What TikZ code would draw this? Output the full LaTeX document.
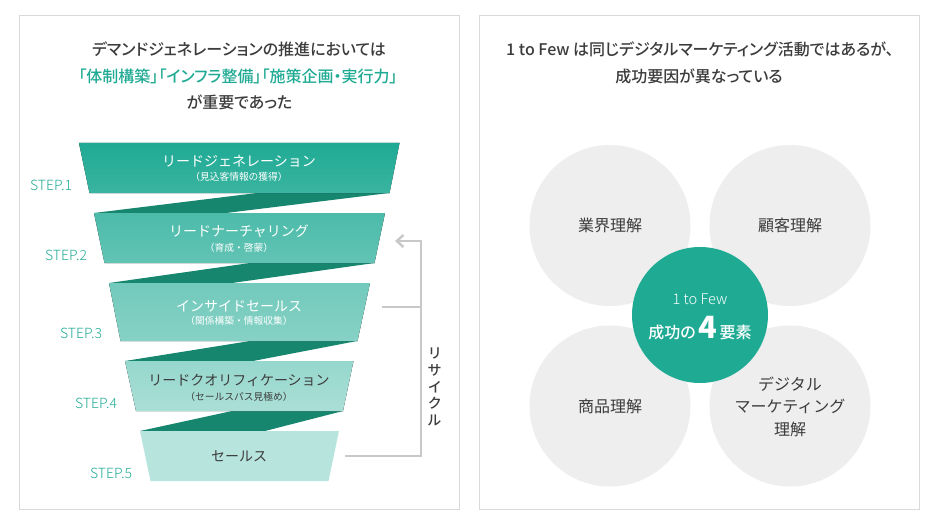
\documentclass[tikz,border=0pt]{standalone}
\usepackage{fontspec}
\usetikzlibrary{arrows.meta}
\setmainfont{Noto Sans CJK JP}[BoldFont={Noto Sans CJK JP Bold}]
\newfontfamily\jpm{Noto Sans CJK JP Medium}[RawFeature=+palt]
\newfontfamily\jpr{Noto Sans CJK JP}
\newfontfamily\jpl{Noto Sans CJK JP Light}
\definecolor{teal1}{HTML}{1FAA94}
\definecolor{tealdark}{HTML}{17866F}
\definecolor{ink}{HTML}{3C3C3C}
\definecolor{panelline}{HTML}{D9D9D9}
\definecolor{greyline}{HTML}{C8C8C8}
\definecolor{disc}{HTML}{EEEEEE}
\tikzset{
  panel/.style={draw=panelline,line width=0.75pt,fill=white},
  headline/.style={font=\jpm\fontsize{12}{12}\selectfont,text=ink,inner sep=0pt},
  headteal/.style={headline,text=teal1},
  funnelmain/.style={font=\jpr\fontsize{10.5}{10.5}\selectfont,text=white,inner sep=0pt},
  funnelsub/.style={font=\jpr\fontsize{7.3}{7.3}\selectfont,text=white,inner sep=0pt},
  steplabel/.style={font=\jpl\fontsize{10.5}{10.5}\selectfont,text=teal1,inner sep=0pt},
  recycleline/.style={draw=greyline,line width=2.2pt},
  discshape/.style={circle,fill=disc,minimum size=120.75pt,inner sep=0pt,
     font=\jpr\fontsize{12}{17}\selectfont,text=ink,align=center},
  twist/.style={fill=tealdark},
}
\begin{document}
\begin{tikzpicture}[x=0.75pt,y=-0.75pt]
\useasboundingbox (0,0) rectangle (940,528);
\fill[white] (0,0) rectangle (940,528);
\draw[panel] (19.5,16) rectangle (459.5,509.5);
\draw[panel] (479.5,16) rectangle (919.5,509.5);
% headlines
\node[headline] (h1) at (239,49) {デマンドジェネレーションの推進においては};
\node[headteal] (h2) at (238,76) {「体制構築」「インフラ整備」「施策企画・実行力」};
\node[headline] (h3) at (239.5,102) {が重要であった};
\node[headline] (r1) at (700,49) {1 to Few は同じデジタルマーケティング活動ではあるが、};
\node[headline] (r2) at (699,76) {成功要因が異なっている};
% twists
\fill[twist] (94,213) -- (257,193) -- (389,193) -- (226,213) -- cycle;
\fill[twist] (109,283) -- (250,263) -- (374.5,263) -- (232,283) -- cycle;
\fill[twist] (125,361) -- (250,341) -- (357,341) -- (253,361) -- cycle;
\fill[twist] (140,431) -- (232,411) -- (343,411) -- (265,431) -- cycle;
% funnel
\fill[top color=teal1,bottom color=teal1!88!white] (79,143) -- (399.5,143) -- (389.5,193) -- (89.5,193) -- cycle;
\fill[top color=teal1!80!white,bottom color=teal1!70!white] (94,213) -- (385,213) -- (374.5,263) -- (104.5,263) -- cycle;
\fill[top color=teal1!63!white,bottom color=teal1!54!white] (109,283) -- (370,283) -- (357.5,341) -- (120.5,341) -- cycle;
\fill[top color=teal1!47!white,bottom color=teal1!38!white] (125,361) -- (353.5,361) -- (343,411) -- (136,411) -- cycle;
\fill[teal1!32!white] (140,431) -- (339,431) -- (328.5,481) -- (150.5,481) -- cycle;
% funnel texts
\node[funnelmain] (f1) at (239,161) {リードジェネレーション};
\node[funnelsub] (f1s) at (239,177) {（見込客情報の獲得）};
\node[funnelmain] (f2) at (239,231) {リードナーチャリング};
\node[funnelsub] (f2s) at (239,247.5) {（育成・啓蒙）};
\node[funnelmain] (f3) at (239,306) {インサイドセールス};
\node[funnelsub] (f3s) at (239,321) {（関係構築・情報収集）};
\node[funnelmain,text=ink] (f4) at (239,380) {リードクオリフィケーション};
\node[funnelsub,text=ink] (f4s) at (239,396.5) {（セールスパス見極め）};
\node[funnelmain,text=ink] (f5) at (239,456) {セールス};
% steps
\node[steplabel] (s1) at (51,185) {STEP.1};
\node[steplabel] (s2) at (66,255) {STEP.2};
\node[steplabel] (s3) at (81,333) {STEP.3};
\node[steplabel] (s4) at (96,403) {STEP.4};
\node[steplabel] (s5) at (111,473) {STEP.5};
% recycle
\coordinate (ra) at (345,456);
\coordinate (rb) at (421,456);
\coordinate (rc) at (421,241);
\coordinate (rd) at (395,241);
\coordinate (re) at (382,307);
\coordinate (rf) at (421,307);
\draw[recycleline,-{Straight Barb[length=5pt,width=9pt,line width=1.8pt]}] (ra) -- (rb) -- (rc) -- (rd);
\draw[recycleline] (re) -- (rf);
\node[font=\jpm\fontsize{10.5}{14}\selectfont,text=ink,align=center,inner sep=0pt] (rl) at (434.5,387) {リ\\[-1.5pt]サ\\[-1.5pt]イ\\[-1.5pt]ク\\[-1.5pt]ル};
% discs
\node[discshape] (d1) at (610,225.5) {業界理解};
\node[discshape] (d2) at (790,225.5) {顧客理解};
\node[discshape] (d3) at (610,406) {商品理解};
\node[discshape,text depth=0pt] (d4) at (790,406) {デジタル\\マーケティング\\理解};
\node[circle,fill=teal1,minimum size=102pt,inner sep=0pt] (c) at (700,315) {};
\node[font=\jpl\fontsize{11}{11}\selectfont,text=white,inner sep=0pt] (c1) at (700,299) {1 to Few};
\node[font=\jpm\fontsize{12}{12}\selectfont,text=white,inner sep=0pt] (c2) at (700,328) {成功の\,{\fontsize{23}{23}\selectfont\bfseries 4}\,要素};
\end{tikzpicture}
\end{document}
